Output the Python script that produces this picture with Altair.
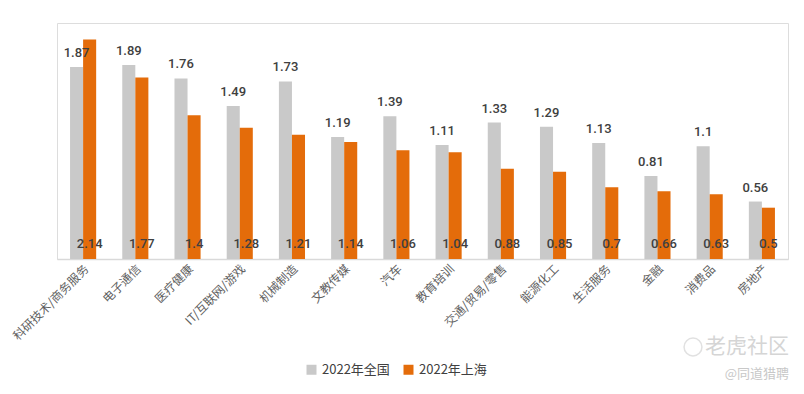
import altair as alt
import pandas as pd

categories = ["科研技术/商务服务", "电子通信", "医疗健康", "IT/互联网/游戏", "机械制造", "文教传媒", "汽车",
              "教育培训", "交通/贸易/零售", "能源化工", "生活服务", "金融", "消费品", "房地产"]
national = [1.87, 1.89, 1.76, 1.49, 1.73, 1.19, 1.39, 1.11, 1.33, 1.29, 1.13, 0.81, 1.1, 0.56]
shanghai = [2.14, 1.77, 1.4, 1.28, 1.21, 1.14, 1.06, 1.04, 0.88, 0.85, 0.7, 0.66, 0.63, 0.5]
series_names = ["2022年全国", "2022年上海"]
series_colors = ["#C9C9C9", "#E46C0A"]
watermarks = ["老虎社区", "@同道猎聘"]

rows = []
for c, n, s in zip(categories, national, shanghai):
    rows.append({"cat": c, "series": series_names[0], "value": n, "label": f"{n:g}", "pos": 0.146})
    rows.append({"cat": c, "series": series_names[1], "value": s, "label": f"{s:g}", "pos": 0.146})
df = pd.DataFrame(rows)

FONT = "Noto Sans CJK SC"

x_enc = alt.X("cat:N", sort=categories, title=None,
              scale=alt.Scale(paddingInner=0.5, paddingOuter=0.25),
              axis=alt.Axis(labelAngle=-45, labelFontSize=12, labelColor="#5F5F5F", labelFont=FONT,
                            ticks=False, domainColor="#D9D9D9", domainWidth=1.5, labelPadding=4))
xoff = alt.XOffset("series:N", scale=alt.Scale(domain=series_names))
y_scale = alt.Scale(domain=[0, 2.3])

base = alt.Chart(df)

bars = base.mark_bar().encode(
    x=x_enc,
    xOffset=xoff,
    y=alt.Y("value:Q", scale=y_scale, axis=None),
    color=alt.Color("series:N", scale=alt.Scale(domain=series_names, range=series_colors),
                    legend=alt.Legend(title=None, orient="none", legendX=248, legendY=340,
                                      direction="horizontal", symbolType="square", symbolSize=100,
                                      labelFontSize=13, labelColor="#404040", labelFont=FONT,
                                      columnPadding=12, symbolStrokeWidth=0)),
)

top_labels = base.transform_filter(alt.datum.series == series_names[0]).mark_text(
    baseline="bottom", dy=-7, fontSize=13, color="#404040", font="Roboto", fontWeight=500
).encode(x=x_enc, xOffset=xoff, y=alt.Y("value:Q", scale=y_scale), text="label:N")

bottom_labels = base.transform_filter(alt.datum.series == series_names[1]).mark_text(
    baseline="middle", fontSize=13, color="#404040", font="Roboto", fontWeight=500
).encode(x=x_enc, xOffset=xoff, y=alt.Y("pos:Q", scale=y_scale), text="label:N")

wm = pd.DataFrame({"t": watermarks})
wm1 = alt.Chart(wm.iloc[[0]]).mark_text(align="right", baseline="middle", fontSize=21, color="#D5D5D5", font=FONT).encode(
    x=alt.value(732), y=alt.value(324), text="t:N")
wm_icon = alt.Chart(wm.iloc[[0]]).mark_point(shape="circle", size=320, color="#D5D5D5", strokeWidth=1.5).encode(
    x=alt.value(636), y=alt.value(324))
wm2 = alt.Chart(wm.iloc[[1]]).mark_text(align="right", baseline="middle", fontSize=13, color="#C8C8C8", font=FONT).encode(
    x=alt.value(732), y=alt.value(351), text="t:N")

chart = alt.layer(bars, top_labels, bottom_labels, wm1, wm_icon, wm2).properties(
    width=731, height=236,
    autosize=alt.AutoSizeParams(type="none"),
    padding={"left": 49, "top": 15, "right": 8, "bottom": 127},
).configure_view(stroke=None).configure(background="white")

chart.save("out.html", embed_options={"renderer": "svg", "actions": False})
